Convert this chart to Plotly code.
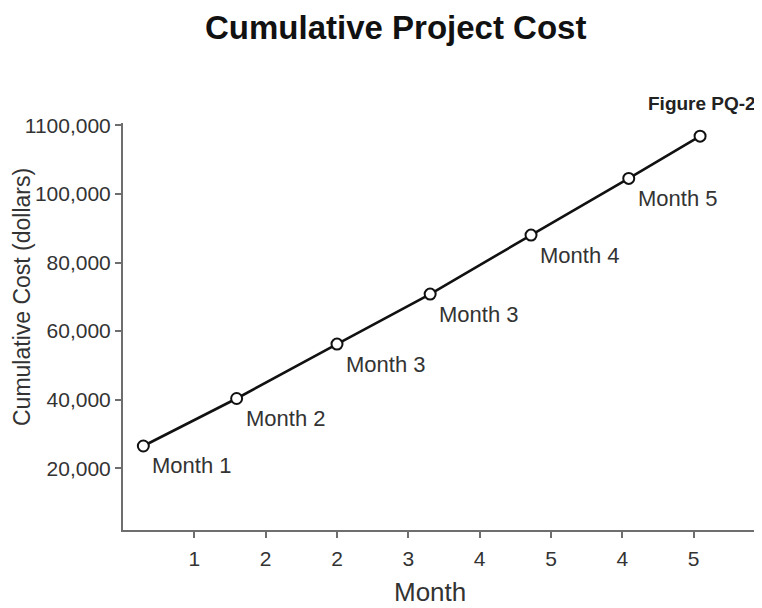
import plotly.graph_objects as go

# Data
x_pos = [0.285, 1.593, 3.0, 4.306, 5.72, 7.09, 8.09]
cost = [26500, 40350, 56230, 70800, 88000, 104540, 116870]
point_labels = ["Month 1", "Month 2", "Month 3", "Month 3", "Month 4", "Month 5", ""]

x_tickvals = [1, 2, 3, 4, 5, 6, 7, 8]
x_ticktext = ["1", "2", "2", "3", "4", "5", "4", "5"]
y_tickvals = [20000, 40000, 60000, 80000, 100000, 120000]
y_ticktext = ["20,000", "40,000", "60,000", "80,000", "100,000", "1100,000"]

FONT = "Liberation Sans, Arial, sans-serif"
AXIS_COLOR = "#6e6e6e"
TEXT_COLOR = "#333333"

# page has an 8px body margin; figure sized so the plot lands where the reference has it
OFF = 8
W, H = 754, 600
ML, MR, MT, MB = 115, 2, 115, 78
PW = W - ML - MR
PH = H - MT - MB


def paper_xy(px, py):
    """page pixel -> paper coordinates"""
    fx, fy = px - OFF, py - OFF
    return (fx - ML) / PW, (H - MB - fy) / PH


fig = go.Figure()
fig.add_trace(go.Scatter(
    x=x_pos, y=cost, mode="lines+markers",
    line=dict(color="#111111", width=2.6),
    marker=dict(symbol="circle", size=11, color="white",
                line=dict(color="#111111", width=2)),
    showlegend=False, hoverinfo="skip",
))

for xv, yv, lab in zip(x_pos, cost, point_labels):
    if lab:
        fig.add_annotation(x=xv, y=yv, xref="x", yref="y", text=lab,
                           showarrow=False, xanchor="left", yanchor="middle",
                           xshift=7, yshift=-20,
                           font=dict(family=FONT, size=22, color=TEXT_COLOR))

tx, ty = paper_xy(395, 28)
fig.add_annotation(x=tx, y=ty, xref="paper", yref="paper", text="<b>Cumulative Project Cost</b>",
                   showarrow=False, xanchor="center", yanchor="middle",
                   font=dict(family=FONT, size=33, color="#111111"))
fx_, fy_ = paper_xy(758, 104)
fig.add_annotation(x=fx_, y=fy_, xref="paper", yref="paper", text="<b>Figure PQ-2</b>",
                   showarrow=False, xanchor="right", yanchor="middle",
                   font=dict(family=FONT, size=19, color="#222222"))
mx, my = paper_xy(430, 592)
fig.add_annotation(x=mx, y=my, xref="paper", yref="paper", text="Month",
                   showarrow=False, xanchor="center", yanchor="middle",
                   font=dict(family=FONT, size=26, color=TEXT_COLOR))
yx, yy = paper_xy(22, 297)
fig.add_annotation(x=yx, y=yy, xref="paper", yref="paper", text="Cumulative Cost (dollars)",
                   showarrow=False, xanchor="center", yanchor="middle", textangle=-90,
                   font=dict(family=FONT, size=23, color=TEXT_COLOR))

fig.update_layout(
    width=W, height=H,
    margin=dict(l=ML, r=MR, t=MT, b=MB, autoexpand=False),
    paper_bgcolor="white", plot_bgcolor="white",
    font=dict(family=FONT, color=TEXT_COLOR),
)

fig.update_xaxes(
    range=[0, 8.93], tickmode="array", tickvals=x_tickvals, ticktext=x_ticktext,
    showgrid=False, zeroline=False, showline=True, linecolor=AXIS_COLOR, linewidth=2,
    ticks="outside", ticklen=6, tickwidth=2, tickcolor=AXIS_COLOR, ticklabelstandoff=3,
    tickfont=dict(family=FONT, size=21, color=TEXT_COLOR),
)
fig.update_yaxes(
    range=[2000, 120700], tickmode="array", tickvals=y_tickvals, ticktext=y_ticktext,
    showgrid=False, zeroline=False, showline=True, linecolor=AXIS_COLOR, linewidth=2,
    ticks="outside", ticklen=6, tickwidth=2, tickcolor=AXIS_COLOR,
    tickfont=dict(family=FONT, size=21, color=TEXT_COLOR),
)

fig.write_html("out.html")
